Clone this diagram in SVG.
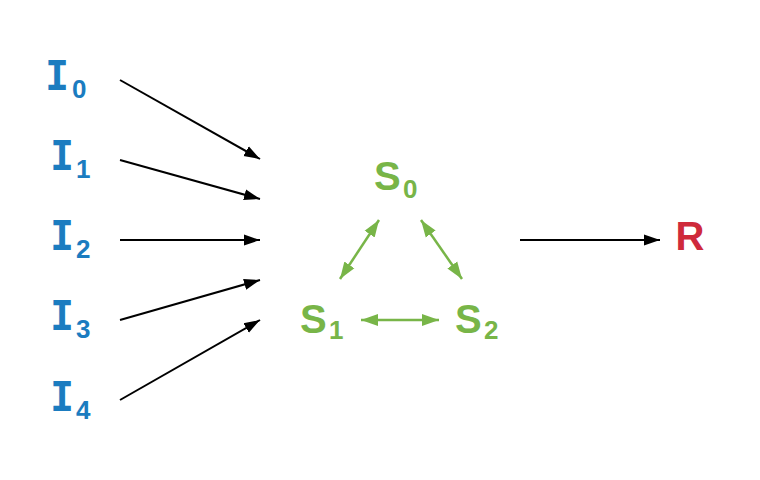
<svg xmlns="http://www.w3.org/2000/svg" width="760" height="480" viewBox="0 0 760 480">
<defs>
<style>
.lbl{font-family:"Liberation Sans","DejaVu Sans",sans-serif;font-weight:bold;font-size:40px}
.ii{font-family:"DejaVu Sans Mono","Liberation Mono",monospace;font-size:40px}
.sub{font-size:26px}
.blue{fill:#1b7cc0}
.green{fill:#78b548}
.red{fill:#cf2a3b}
.edge{fill:none;stroke:#000;stroke-width:2}
.gedge{fill:none;stroke:#78b548;stroke-width:2.5}
</style>
<marker id="ah" markerUnits="userSpaceOnUse" markerWidth="16" markerHeight="12" refX="16" refY="5.5" orient="auto" viewBox="0 0 16 11">
<path d="M0,0 L16,5.5 L0,11 z" fill="#000"/>
</marker>
<marker id="gh" markerUnits="userSpaceOnUse" markerWidth="17" markerHeight="13" refX="17" refY="6" orient="auto-start-reverse" viewBox="0 0 17 12">
<path d="M0,0 L17,6 L0,12 z" fill="#78b548"/>
</marker>
</defs>
<rect width="760" height="480" fill="#fff"/>
<g id="connectors">
<line class="edge" x1="120" y1="80" x2="260" y2="159" marker-end="url(#ah)"/>
<line class="edge" x1="120" y1="160" x2="260" y2="199" marker-end="url(#ah)"/>
<line class="edge" x1="120" y1="240" x2="260" y2="240" marker-end="url(#ah)"/>
<line class="edge" x1="120" y1="320" x2="260" y2="280" marker-end="url(#ah)"/>
<line class="edge" x1="120" y1="400" x2="260" y2="320" marker-end="url(#ah)"/>
<line class="edge" x1="520" y1="240" x2="660" y2="240" marker-end="url(#ah)"/>
<line class="gedge" x1="379" y1="220" x2="340" y2="279" marker-start="url(#gh)" marker-end="url(#gh)"/>
<line class="gedge" x1="421" y1="220" x2="462" y2="279" marker-start="url(#gh)" marker-end="url(#gh)"/>
<line class="gedge" x1="361" y1="320" x2="439" y2="320" marker-start="url(#gh)" marker-end="url(#gh)"/>
</g>
<g id="I0"><text class="lbl blue"><tspan class="ii" x="57" y="90" text-anchor="middle">I</tspan><tspan class="sub" x="72" y="98">0</tspan></text></g>
<g id="I1"><text class="lbl blue"><tspan class="ii" x="62" y="170" text-anchor="middle">I</tspan><tspan class="sub" x="76" y="178">1</tspan></text></g>
<g id="I2"><text class="lbl blue"><tspan class="ii" x="62" y="250" text-anchor="middle">I</tspan><tspan class="sub" x="76" y="258">2</tspan></text></g>
<g id="I3"><text class="lbl blue"><tspan class="ii" x="62" y="330" text-anchor="middle">I</tspan><tspan class="sub" x="76" y="338">3</tspan></text></g>
<g id="I4"><text class="lbl blue"><tspan class="ii" x="62" y="411" text-anchor="middle">I</tspan><tspan class="sub" x="76" y="419">4</tspan></text></g>
<g id="S0"><text class="lbl green"><tspan x="374" y="190">S</tspan><tspan class="sub" x="403" y="198">0</tspan></text></g>
<g id="S1"><text class="lbl green"><tspan x="300" y="333">S</tspan><tspan class="sub" x="329" y="339">1</tspan></text></g>
<g id="S2"><text class="lbl green"><tspan x="455" y="333">S</tspan><tspan class="sub" x="484" y="339">2</tspan></text></g>
<g id="R"><text class="lbl red" x="690" y="250" text-anchor="middle">R</text></g>
</svg>
